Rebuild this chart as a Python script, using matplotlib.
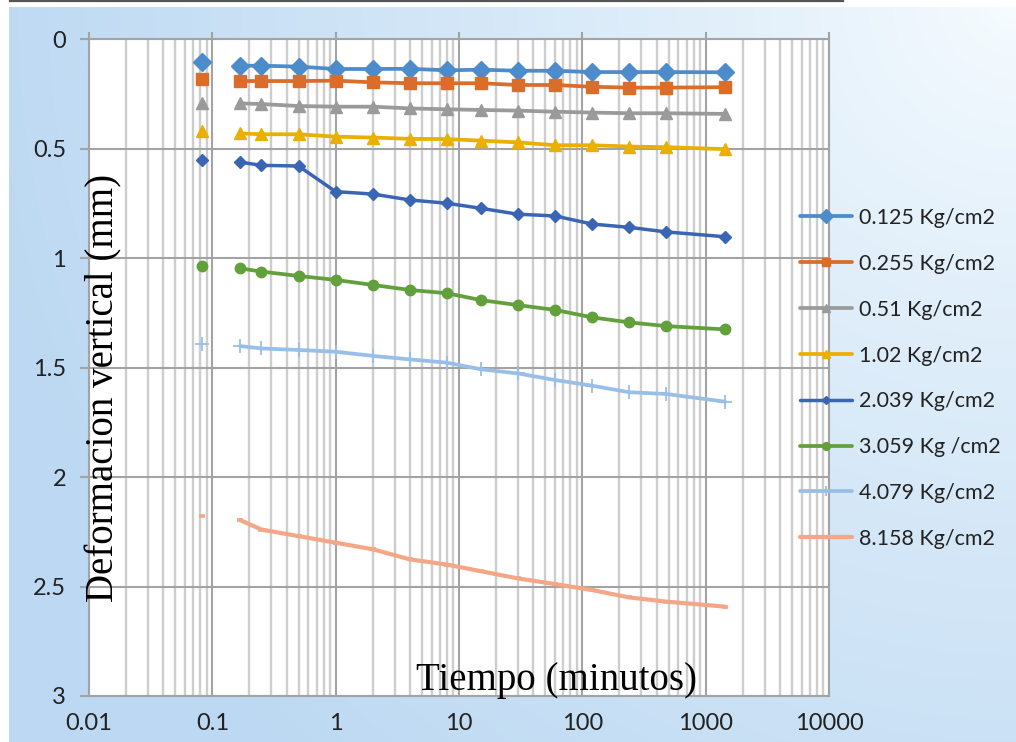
import numpy as np
import matplotlib
matplotlib.use("Agg")
import matplotlib.pyplot as plt
from matplotlib.lines import Line2D
from matplotlib.patches import Rectangle
from matplotlib.ticker import LogLocator, FixedLocator, NullFormatter, FuncFormatter

# Consolidation readings: elapsed time (min) and vertical deformation (mm)
tiempo = [0.083, 0.167, 0.25, 0.5, 1, 2, 4, 8, 15, 30, 60, 120, 240, 480, 1440]

d_0125 = [0.105, 0.122, 0.122, 0.126, 0.137, 0.137, 0.136, 0.143, 0.140, 0.145, 0.145, 0.151, 0.151, 0.151, 0.152]
d_0255 = [0.183, 0.192, 0.192, 0.192, 0.190, 0.198, 0.202, 0.202, 0.202, 0.210, 0.210, 0.218, 0.222, 0.222, 0.220]
d_051 = [0.294, 0.294, 0.297, 0.306, 0.309, 0.309, 0.317, 0.321, 0.324, 0.327, 0.332, 0.336, 0.339, 0.339, 0.342]
d_102 = [0.419, 0.431, 0.435, 0.435, 0.446, 0.450, 0.456, 0.457, 0.464, 0.472, 0.485, 0.485, 0.491, 0.494, 0.503]
d_2039 = [0.553, 0.562, 0.577, 0.580, 0.697, 0.708, 0.735, 0.750, 0.773, 0.800, 0.808, 0.845, 0.860, 0.881, 0.903]
d_3059 = [1.035, 1.047, 1.062, 1.082, 1.100, 1.123, 1.146, 1.161, 1.192, 1.215, 1.237, 1.271, 1.294, 1.311, 1.326]
d_4079 = [1.394, 1.402, 1.413, 1.420, 1.428, 1.447, 1.463, 1.478, 1.508, 1.527, 1.557, 1.583, 1.613, 1.621, 1.656]
d_8158 = [2.177, 2.196, 2.240, 2.270, 2.300, 2.330, 2.376, 2.400, 2.430, 2.463, 2.489, 2.516, 2.550, 2.569, 2.592]

etiquetas = ["0.125 Kg/cm2", "0.255 Kg/cm2", "0.51 Kg/cm2", "1.02 Kg/cm2",
             "2.039 Kg/cm2", "3.059 Kg /cm2", "4.079 Kg/cm2", "8.158 Kg/cm2"]
series = [d_0125, d_0255, d_051, d_102, d_2039, d_3059, d_4079, d_8158]

estilos = [
    dict(color="#4d8ccb", marker="D", ms=9.0, lw=2.7),
    dict(color="#db6d2a", marker="s", ms=8.0, lw=2.7),
    dict(color="#9a9a9a", marker="^", ms=8.5, lw=2.7),
    dict(color="#eab000", marker="^", ms=8.5, lw=2.7),
    dict(color="#3a64b4", marker="D", ms=6.0, lw=2.5),
    dict(color="#62a03c", marker="o", ms=7.5, lw=2.7),
    dict(color="#98bfe8", marker="+", ms=10.0, lw=2.7, mew=1.3),
    dict(color="#f4a786", marker="_", ms=5.0, lw=3.0, mew=2.6),
]

W, H = 1016, 742
fig = plt.figure(figsize=(W / 100, H / 100), dpi=100)

# light-blue gradient backdrop, brightest at the upper right
bg = fig.add_axes([0, 0, 1, 1], zorder=-10)
yy, xx = np.mgrid[0:H, 0:W]
dist = np.hypot(xx - W, yy * 1.0) / 1050.0
t = np.clip(dist, 0, 1) ** 0.8
light = np.array([0.97, 0.99, 1.0])
dark = np.array([0.74, 0.85, 0.95])
img = light[None, None, :] * (1 - t[..., None]) + dark[None, None, :] * t[..., None]
bg.imshow(img, aspect="auto", extent=[0, 1, 0, 1], origin="upper")
bg.set_axis_off()
fig.patches.append(Rectangle((0, 0), 9 / W, 1, transform=fig.transFigure,
                             facecolor="white", edgecolor="none", zorder=-5))
fig.patches.append(Rectangle((0, 1 - 7 / H), 1, 7 / H, transform=fig.transFigure,
                             facecolor="white", edgecolor="none", zorder=-5))
fig.add_artist(Line2D([10 / W, 843 / W], [1 - 1 / H, 1 - 1 / H], transform=fig.transFigure,
                      color="#555555", lw=1.6))

ax = fig.add_axes([89 / W, 1 - 696 / H, (829 - 89) / W, (696 - 39) / H])
ax.set_facecolor("white")
ax.set_xscale("log")
ax.set_xlim(0.01, 10000)
ax.set_ylim(3, 0)

ax.xaxis.set_major_locator(FixedLocator([0.01, 0.1, 1, 10, 100, 1000, 10000]))
ax.xaxis.set_minor_locator(LogLocator(base=10, subs=np.arange(2, 10)))
ax.xaxis.set_minor_formatter(NullFormatter())
ax.xaxis.set_major_formatter(FuncFormatter(lambda v, p: f"{v:g}"))
ax.yaxis.set_major_locator(FixedLocator([0, 0.5, 1, 1.5, 2, 2.5, 3]))
ax.yaxis.set_major_formatter(FuncFormatter(lambda v, p: f"{v:g}"))

ax.grid(True, which="major", axis="both", color="#a3a3a3", lw=1.5)
ax.grid(True, which="minor", axis="x", color="#cdcdcd", lw=1.7)
ax.set_axisbelow(True)
for s in ax.spines.values():
    s.set_color("#a3a3a3")
    s.set_linewidth(1.5)

tick_font = "Lato"
ax.tick_params(axis="x", which="major", top=True, bottom=False, labeltop=False,
               labelbottom=True, direction="out", length=5, color="#a3a3a3",
               width=1.5, pad=7, labelsize=17)
ax.tick_params(axis="x", which="minor", top=False, bottom=False)
ax.tick_params(axis="y", which="major", left=True, direction="out", length=6.5,
               color="#a3a3a3", width=1.5, pad=10, labelsize=17)
for lab in ax.get_xticklabels() + ax.get_yticklabels():
    lab.set_fontfamily(tick_font)
    lab.set_color("#222222")

handles = []
for vals, est, lab in zip(series, estilos, etiquetas):
    kw = dict(color=est["color"], marker=est["marker"], markersize=est["ms"],
              markeredgewidth=est.get("mew", 1.0), markeredgecolor=est["color"])
    # the first reading stands apart from the connected record
    ax.plot(tiempo[:1], vals[:1], linestyle="none", clip_on=False, **kw)
    h, = ax.plot(tiempo[1:], vals[1:], linewidth=est["lw"], solid_capstyle="round",
                 solid_joinstyle="round", label=lab, clip_on=False, **kw)
    handles.append(h)

leg = fig.legend(handles=handles, loc="upper left",
                 bbox_to_anchor=(800 / W, 1 - 208 / H), frameon=False,
                 prop={"family": tick_font, "size": 15.5}, handlelength=2.4,
                 handletextpad=0.35, labelspacing=1.2, markerscale=0.75,
                 borderpad=0, borderaxespad=0)
for txt in leg.get_texts():
    txt.set_color("#222222")

serif = "Liberation Serif"
fig.text(104 / W, 1 - 388 / H, "Deformacion vertical (mm)", rotation=90,
         ha="center", va="center", fontsize=28, family=serif, color="black")
fig.text(556 / W, 1 - 690 / H, "Tiempo (minutos)", ha="center", va="baseline",
         fontsize=28, family=serif, color="black")

fig.savefig("out.png", dpi=100)
